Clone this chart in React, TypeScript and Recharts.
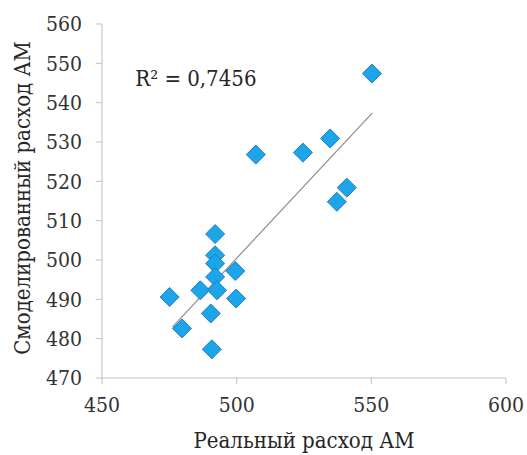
import { ScatterChart, Scatter, XAxis, YAxis, ReferenceLine, ReferenceDot } from 'recharts';

// Real vs. modelled AM consumption
const realValues = [550.2, 534.7, 524.6, 507.1, 540.9, 537.2, 492.0, 492.0, 492.0, 492.0, 499.5, 486.5, 492.7, 475.1, 499.8, 490.4, 479.7, 490.8];
const modelValues = [547.4, 530.9, 527.3, 526.8, 518.4, 514.8, 506.6, 501.2, 499.1, 495.7, 497.2, 492.3, 492.3, 490.6, 490.2, 486.4, 482.6, 477.3];

// linear trend endpoints as drawn in the source
const trendX = [476.2, 550.4];
const trendY = [483.0, 537.4];

const xTicks = [450, 500, 550, 600];
const yTicks = [470, 480, 490, 500, 510, 520, 530, 540, 550, 560];

const points = realValues.map((x, i) => ({ x, y: modelValues[i] }));

const FONT = "'DejaVu Serif Condensed', 'DejaVu Serif'";

const Diamond = (props: any) => {
  const { cx, cy } = props;
  const r = 9.5;
  return (
    <polygon
      points={`${cx},${cy - r} ${cx + r},${cy} ${cx},${cy + r} ${cx - r},${cy}`}
      fill="#1ba6ea"
      stroke="#2a78c6"
      strokeWidth={1}
    />
  );
};

export default function App() {
  const tickStyle = { fontSize: 21, fill: '#333', fontFamily: FONT };

  return (
    <div style={{ position: 'absolute', left: 0, top: 0, width: 527, height: 455, background: '#fff' }}>
      <ScatterChart width={527} height={455} margin={{ top: 24, right: 21, bottom: 0, left: 2 }}>
        <XAxis
          type="number"
          dataKey="x"
          domain={[450, 600]}
          ticks={xTicks}
          stroke="#bfbfbf"
          tickSize={6}
          tickMargin={13}
          tick={tickStyle}
          height={77}
          label={{
            content: ({ viewBox }: any) => (
              <text
                x={viewBox.x + viewBox.width / 2}
                y={440}
                textAnchor="middle"
                dominantBaseline="central"
                fontSize={22}
                fontFamily={FONT}
                fill="#262626"
              >
                Реальный расход АМ
              </text>
            ),
          }}
        />
        <YAxis
          type="number"
          dataKey="y"
          domain={[470, 560]}
          ticks={yTicks}
          stroke="#bfbfbf"
          tickSize={6}
          tickMargin={14}
          tick={tickStyle}
          width={100}
          label={{
            content: ({ viewBox }: any) => {
              const cx = 22;
              const cy = viewBox.y + viewBox.height / 2 - 3;
              return (
                <text
                  x={cx}
                  y={cy}
                  transform={`rotate(-90, ${cx}, ${cy})`}
                  textAnchor="middle"
                  dominantBaseline="central"
                  fontSize={22}
                  fontFamily={FONT}
                  fill="#262626"
                >
                  Смоделированный расход АМ
                </text>
              );
            },
          }}
        />
        <Scatter data={points} shape={Diamond} isAnimationActive={false} />
        <ReferenceLine
          segment={[
            { x: trendX[0], y: trendY[0] },
            { x: trendX[1], y: trendY[1] },
          ]}
          stroke="#8c8c8c"
          strokeWidth={1.2}
        />
        <ReferenceDot
          x={460.5}
          y={546.3}
          r={0}
          fill="none"
          stroke="none"
          label={{
            value: 'R² = 0,7456',
            position: 'right',
            fontSize: 22,
            fontFamily: FONT,
            fill: '#262626',
          }}
        />
      </ScatterChart>
    </div>
  );
}
